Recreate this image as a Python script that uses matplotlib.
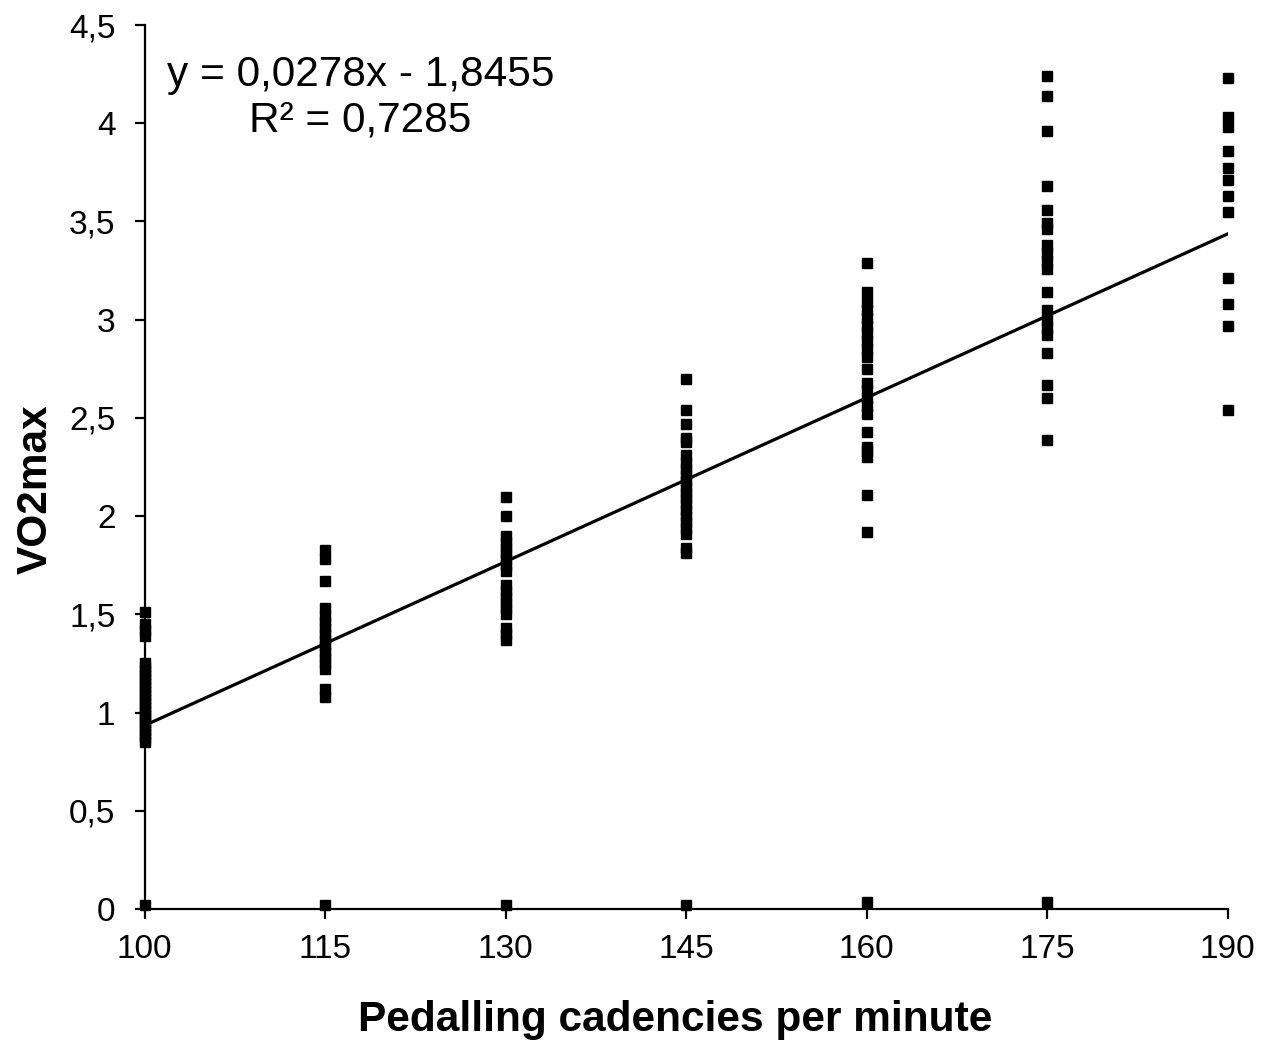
import matplotlib
matplotlib.use('Agg')
import matplotlib.pyplot as plt

plt.rcParams['font.family'] = ['Liberation Sans', 'DejaVu Sans']

# VO2max readings per cadency
vo2_100 = [0.02, 0.85, 0.87, 0.89, 0.91, 0.93, 0.95, 0.97, 0.99, 1.01, 1.03, 1.05,
           1.07, 1.09, 1.11, 1.13, 1.15, 1.17, 1.19, 1.21, 1.23, 1.25, 1.39, 1.42,
           1.45, 1.51]
vo2_115 = [0.02, 1.08, 1.12, 1.22, 1.25, 1.28, 1.31, 1.34, 1.37, 1.40, 1.43, 1.46,
           1.49, 1.53, 1.67, 1.78, 1.83]
vo2_130 = [0.02, 1.37, 1.40, 1.43, 1.50, 1.53, 1.56, 1.59, 1.62, 1.65, 1.72, 1.75,
           1.78, 1.81, 1.84, 1.87, 1.90, 2.00, 2.10]
vo2_145 = [0.02, 1.81, 1.84, 1.91, 1.94, 1.97, 2.00, 2.03, 2.06, 2.09, 2.12, 2.15,
           2.18, 2.21, 2.24, 2.27, 2.31, 2.38, 2.40, 2.47, 2.54, 2.70]
vo2_160 = [0.035, 1.92, 2.11, 2.30, 2.33, 2.35, 2.43, 2.52, 2.56, 2.60, 2.64, 2.68,
           2.75, 2.81, 2.85, 2.89, 2.93, 2.97, 3.01, 3.05, 3.09, 3.14, 3.29]
vo2_175 = [0.035, 2.39, 2.60, 2.67, 2.83, 2.92, 2.96, 3.00, 3.05, 3.14, 3.26, 3.30,
           3.34, 3.38, 3.46, 3.49, 3.56, 3.68, 3.96, 4.14, 4.24]
vo2_190 = [2.54, 2.97, 3.08, 3.21, 3.55, 3.63, 3.71, 3.77, 3.86, 3.98, 4.03, 4.23]

cadencies = [100, 115, 130, 145, 160, 175, 190]
columns = [vo2_100, vo2_115, vo2_130, vo2_145, vo2_160, vo2_175, vo2_190]

# trendline from the printed equation
slope = 0.0278
intercept = -1.8455
r2 = 0.7285

yticks = [0, 0.5, 1, 1.5, 2, 2.5, 3, 3.5, 4, 4.5]
ytick_labels = ['0', '0,5', '1', '1,5', '2', '2,5', '3', '3,5', '4', '4,5']

fig = plt.figure(figsize=(12.8, 10.48), dpi=100)
ax = fig.add_axes([0.113, 0.1326, 0.846, 0.8435])

for cad, vals in zip(cadencies, columns):
    ax.plot([cad] * len(vals), vals, linestyle='none', marker='s', markersize=7.7,
            color='black', clip_on=False, zorder=3)

x0, x1 = cadencies[0], cadencies[-1]
ax.plot([x0, x1], [slope * x0 + intercept, slope * x1 + intercept],
        color='black', linewidth=2.3, zorder=2)

ax.set_xlim(100, 190)
ax.set_ylim(0, 4.5)
ax.set_xticks(cadencies)
ax.set_xticklabels([str(c) for c in cadencies])
ax.set_yticks(yticks)
ax.set_yticklabels(ytick_labels)

for side in ['top', 'right']:
    ax.spines[side].set_visible(False)
for side in ['left', 'bottom']:
    ax.spines[side].set_linewidth(1.6)
ax.tick_params(axis='both', direction='out', length=7, width=1.6, labelsize=24)
ax.tick_params(axis='x', pad=11)
ax.tick_params(axis='y', pad=14)

eq_text = 'y = 0,0278x - 1,8455\nR² = ' + f'{r2:.4f}'.replace('.', ',')
ax.text(117.95, 4.35, eq_text, ha='center', va='top', fontsize=30.5,
        linespacing=1.2)

ax.set_xlabel('Pedalling cadencies per minute', fontsize=30.5, fontweight='bold')
ax.xaxis.set_label_coords(0.49, -0.103)
ax.set_ylabel('VO2max', fontsize=30.5, fontweight='bold')
ax.yaxis.set_label_coords(-0.082, 0.475)

fig.savefig('out.png', dpi=100)
